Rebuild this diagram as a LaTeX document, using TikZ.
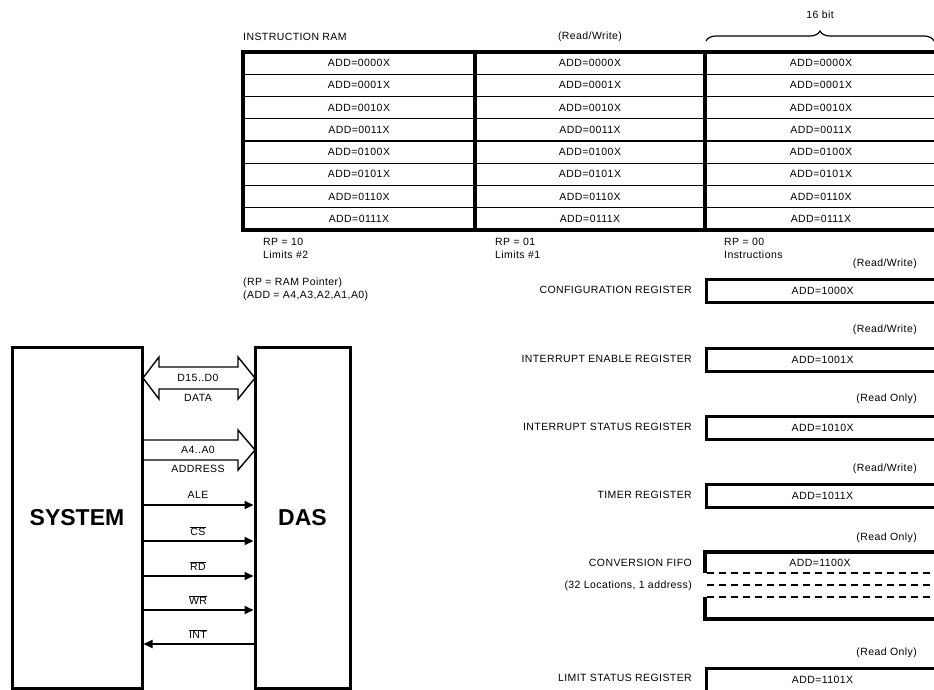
\documentclass[tikz,border=0pt]{standalone}
\usepackage{fontspec}
\setmainfont{Liberation Sans}
\newfontfamily\cad[LetterSpace=4]{Liberation Sans}
\usetikzlibrary{decorations.pathreplacing,arrows.meta}
\begin{document}
\begin{tikzpicture}[x=1pt,y=-1pt,
  txt/.style={font=\cad\fontsize{10.5}{12}\selectfont, inner sep=0pt},
  thickline/.style={line width=3.2pt},
  thinline/.style={line width=1.3pt},
  regbox/.style={draw, line width=3.2pt, minimum width=232pt, minimum height=23pt, anchor=north west, inner sep=0pt, font=\cad\fontsize{10.5}{12}\selectfont},
  bigbox/.style={draw, line width=3pt, minimum height=341pt, inner sep=0pt, font=\bfseries\fontsize{23}{26}\selectfont},
  sig/.style={line width=1.8pt, -{Triangle[length=9pt,width=8pt]}},
  bus/.style={line width=1.4pt, line join=miter}]
\useasboundingbox (0,0) rectangle (934,690);
\clip (0,0) rectangle (934,690);

% ---------------- instruction RAM table ----------------
\node[txt, anchor=west] (iram) at (243,37) {INSTRUCTION RAM};
\node[txt] (rwtab) at (590,37) {(Read/Write)};
\node[txt] (bits) at (820,15) {16 bit};
\draw[line width=1.2pt, decorate, decoration={brace, amplitude=10pt}] (706,41) -- (934,41);

\foreach \i in {1,...,7} \draw[thinline] (243,{52+22.25*\i}) -- (940,{52+22.25*\i});
\draw[thickline] (243,52) rectangle (937,230);
\draw[thickline] (475,52) -- (475,230);
\draw[thickline] (705,52) -- (705,230);
\foreach \bits [count=\i from 0] in {0000,0001,0010,0011,0100,0101,0110,0111} {
  \node[txt] (ca\i) at (359,{63.1+22.25*\i}) {ADD=\bits X};
  \node[txt] (cb\i) at (590,{63.1+22.25*\i}) {ADD=\bits X};
  \node[txt] (cc\i) at (821,{63.1+22.25*\i}) {ADD=\bits X};
}
\node[txt, anchor=west] (rp2) at (263,242) {RP = 10};
\node[txt, anchor=west] (lim2) at (263,255) {Limits \#2};
\node[txt, anchor=west] (rp1) at (495,242) {RP = 01};
\node[txt, anchor=west] (lim1) at (495,255) {Limits \#1};
\node[txt, anchor=west] (rp0) at (724,242) {RP = 00};
\node[txt, anchor=west] (ins) at (724,255) {Instructions};

\node[txt, anchor=west] (leg1) at (243,283) {(RP = RAM Pointer)};
\node[txt, anchor=west] (leg2) at (243,296) {(ADD = A4,A3,A2,A1,A0)};

% ---------------- registers ----------------
\node[txt, anchor=east] (h1) at (917,264) {(Read/Write)};
\node[regbox] (cfg) at (705,278) {ADD=1000X};
\node[txt, anchor=east] (l1) at (692,290) {CONFIGURATION REGISTER};

\node[txt, anchor=east] (h2) at (917,330) {(Read/Write)};
\node[regbox] (ier) at (705,347) {ADD=1001X};
\node[txt, anchor=east] (l2) at (692,359) {INTERRUPT ENABLE REGISTER};

\node[txt, anchor=east] (h3) at (917,399) {(Read Only)};
\node[regbox] (isr) at (705,415) {ADD=1010X};
\node[txt, anchor=east] (l3) at (692,427) {INTERRUPT STATUS REGISTER};

\node[txt, anchor=east] (h4) at (917,469) {(Read/Write)};
\node[regbox] (tmr) at (705,483) {ADD=1011X};
\node[txt, anchor=east] (l4) at (692,495) {TIMER REGISTER};

\node[txt, anchor=east] (h5) at (917,538) {(Read Only)};
\draw[thickline] (705,573) -- (705,552) -- (940,552);
\draw[thickline] (705,597) -- (705,619) -- (940,619);
\foreach \y in {573,585,597} \draw[line width=1.1pt, dash pattern=on 7pt off 5pt] (707,\y) -- (940,\y);
\node[txt] (fifo) at (820,563) {ADD=1100X};
\node[txt, anchor=east] (l5) at (692,563) {CONVERSION FIFO};
\node[txt, anchor=east] (l5b) at (692,586) {(32 Locations, 1 address)};

\node[txt, anchor=east] (h6) at (917,653) {(Read Only)};
\node[regbox] (lsr) at (705,666.5) {ADD=1101X};
\node[txt, anchor=east] (l6) at (692,678) {LIMIT STATUS REGISTER};

% ---------------- system / DAS ----------------
\node[bigbox, minimum width=130pt] (sys) at (77,517.5) {SYSTEM};
\node[bigbox, minimum width=95pt] (das) at (302.5,517.5) {DAS};

% data bus (bidirectional)
\draw[bus] (143,378) -- (159,357) -- (159,367) -- (238,367) -- (238,357) -- (255,378)
  -- (238,399) -- (238,389) -- (159,389) -- (159,399) -- cycle;
\node[txt] (dlab) at (198,378) {D15..D0};
\node[txt] (data) at (198,398) {DATA};

% address bus
\draw[bus] (143,440) -- (238,440) -- (238,430) -- (255,450) -- (238,470) -- (238,460) -- (143,460);
\node[txt] (alab) at (198,450) {A4..A0};
\node[txt] (addr) at (198,469) {ADDRESS};

% control signals
\foreach \y/\lab in {505/ALE, 541/$\overline{\mbox{CS}}$, 576/$\overline{\mbox{RD}}$, 610/$\overline{\mbox{WR}}$} {
  \draw[sig] (sys.east |- 0,\y) -- (das.west |- 0,\y);
  \node[txt] at (198,\y-10) {\lab};
}
\draw[sig] (das.west |- 0,644) -- (sys.east |- 0,644);
\node[txt] (intlab) at (198,634) {$\overline{\mbox{INT}}$};
\end{tikzpicture}
\end{document}
